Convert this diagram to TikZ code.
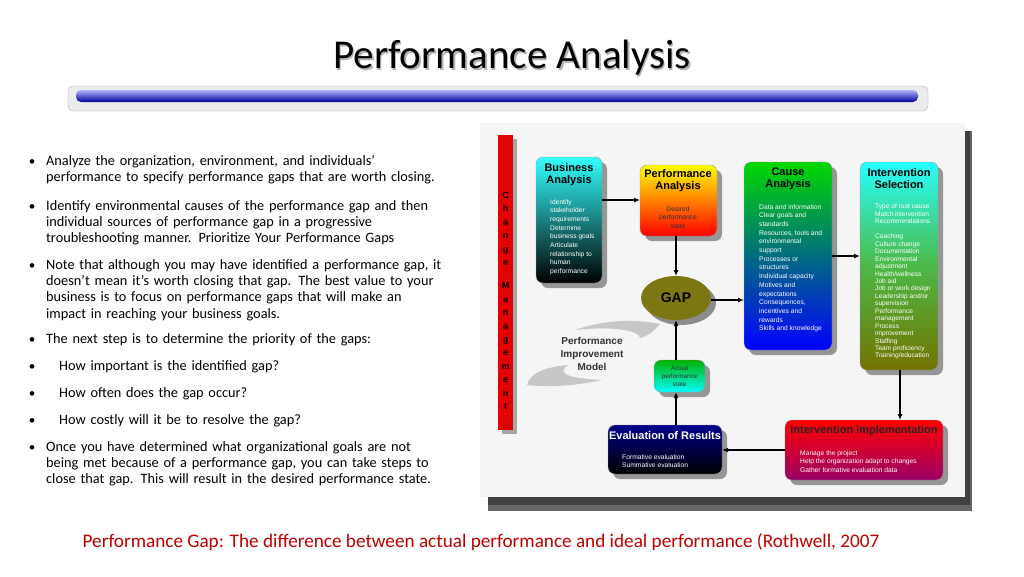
\documentclass[tikz,border=0pt]{standalone}
\usepackage{fontspec}
\setmainfont{Carlito}
\newfontfamily\arial{Liberation Sans}
\usetikzlibrary{arrows.meta,shadows}
\begin{document}
\begin{tikzpicture}[x=1pt,y=-1pt,
 bul/.style={anchor=north west,font=\fontsize{14.3}{16.4}\selectfont,text width=420pt,align=left,inner sep=0pt},
 box/.style={rounded corners=7pt,draw=black!40,line width=0.4pt,drop shadow={shadow xshift=5pt,shadow yshift=-5pt,fill=black!45,opacity=0.9}},
 ttl/.style={font=\arial\bfseries\fontsize{11}{12}\selectfont,align=center,inner sep=0pt},
 sm/.style={font=\arial\fontsize{6.7}{8.7}\selectfont,align=left,anchor=north west,inner sep=0pt,text=white},
 arr/.style={-{Latex[length=6pt,width=5pt]},line width=1.3pt}]
\useasboundingbox (0,0) rectangle (1024,576);
\fill[white] (0,0) rectangle (1024,576);
\node[text=black!30] at (513.5,59.5) {\fontsize{41}{46}\selectfont Performance Analysis};
\node (title) at (512,58) {\fontsize{41}{46}\selectfont Performance Analysis};
\draw[rounded corners=5pt,fill=black!8,draw=black!30] (68,86) rectangle (928,111);
\shade[rounded corners=5pt,top color=blue!30!white,bottom color=blue!60!black] (76,90) rectangle (918,102);
% bullets
\foreach \y in {163,208,267,341,368,395,422,449}{\node at (32,\y) {\fontsize{13}{14}\selectfont\textbullet};}
\node[bul] (b1) at (46,155) {Analyze the organization, environment, and individuals’\\performance to specify performance gaps that are worth closing.};
\node[bul] (b2) at (46,200) {Identify environmental causes of the performance gap and then\\individual sources of performance gap in a progressive\\troubleshooting manner. Prioritize Your Performance Gaps};
\node[bul] (b3) at (46,259) {Note that although you may have identified a performance gap, it\\doesn’t mean it’s worth closing that gap. The best value to your\\business is to focus on performance gaps that will make an\\impact in reaching your business goals.};
\node[bul] (b4) at (46,333) {The next step is to determine the priority of the gaps:};
\node[bul] (b5) at (59,360) {How important is the identified gap?};
\node[bul] (b6) at (59,387) {How often does the gap occur?};
\node[bul] (b7) at (59,414) {How costly will it be to resolve the gap?};
\node[bul] (b8) at (46,441) {Once you have determined what organizational goals are not\\being met because of a performance gap, you can take steps to\\close that gap. This will result in the desired performance state.};
% diagram frame
\fill[black!60] (488,131) rectangle (972,511);
\fill[black!75] (488,131) rectangle (970,505);
\fill[black!4] (480,123) rectangle (965,497);
\fill[black!35] (502,139) rectangle (517,434);
\fill[red!90!black] (498,135) rectangle (513,430);
\node[font=\arial\bfseries\fontsize{9}{13.4}\selectfont,align=center,inner sep=0pt,anchor=north] (cm) at (505.5,192) {C\\h\\a\\n\\g\\e\\[10pt]M\\a\\n\\a\\g\\e\\m\\e\\n\\t};
% swooshes
\fill[black!22] (575,330) .. controls (610,318) and (640,320) .. (660,324) .. controls (655,330) and (650,335) .. (640,338) .. controls (640,330) and (610,326) .. (575,330);
\fill[black!22] (527,385) .. controls (530,373) and (545,367) .. (568,365) .. controls (558,372) and (562,378) .. (602,380) .. controls (570,387) and (545,387) .. (527,385);
\node[font=\arial\bfseries\fontsize{10}{13}\selectfont,align=center,text=black!80] (pim) at (592,354) {Performance\\Improvement\\Model};
% boxes
\shade[box,top color=cyan!80!white,bottom color=black] (536,157) rectangle (602,283);
\node[ttl] (ba) at (569,175) {Business\\Analysis};
\node[sm] (bat) at (550,199) {Identify\\stakeholder\\requirements\\Determine\\business goals\\Articulate\\relationship to\\human\\performance};
\shade[box,top color=yellow,bottom color=red] (640,165) rectangle (717,236);
\node[ttl] (pa) at (678,181) {Performance\\Analysis};
\node[sm,text=black!80,align=center,anchor=north] (pat) at (678,206) {Desired\\performance\\state};
\shade[box,top color=green!85!black,bottom color=blue] (744,162) rectangle (832,350);
\node[ttl] (ca) at (788,179) {Cause\\Analysis};
\node[sm] (cat) at (759,204) {Data and information\\Clear goals and\\standards\\Resources, tools and\\environmental\\support\\Processes or\\structures\\Individual capacity\\Motives and\\expectations\\Consequences,\\incentives and\\rewards\\Skills and knowledge};
\shade[box,top color=cyan!85!white,bottom color=olive!90!black] (860,162) rectangle (938,370);
\node[ttl] (is) at (899,179) {Intervention\\Selection};
\node[sm,font=\arial\fontsize{6.6}{7.45}\selectfont] (ist) at (875,204) {Type of root cause\\Match intervention\\Recommendations\\[7.45pt]Coaching\\Culture change\\Documentation\\Environmental\\adjustment\\Health/wellness\\Job aid\\Job or work design\\Leadership and/or\\supervision\\Performance\\management\\Process\\improvement\\Staffing\\Team proficiency\\Training/education};
\shade[box,top color=green!70!black,bottom color=cyan] (654,360) rectangle (705,392);
\node[sm,text=black!80,align=center,anchor=center,font=\arial\fontsize{6.3}{8}\selectfont] (ap) at (679.5,376) {Actual\\performance\\state};
\shade[box,top color=blue!55!black,bottom color=black] (608,425) rectangle (722,474);
\node[ttl,text=white] (er) at (665,436) {Evaluation of Results};
\node[sm] (ert) at (622,454) {Formative evaluation\\Summative evaluation};
\shade[box,top color=red,bottom color=violet!80!red] (785,420) rectangle (943,480);
\node[ttl,text=black!85] (ii) at (864,431) {Intervention Implementation};
\node[sm] (iit) at (800,450) {Manage the project\\Help the organization adapt to changes\\Gather formative evaluation data};
\fill[black!45] (681,303) ellipse (35 and 22);
\fill[olive!85!black] (676,298) ellipse (35 and 22);
\node[font=\arial\bfseries\fontsize{14}{15}\selectfont] (gap) at (676,298) {GAP};
% arrows
\coordinate (a1) at (602,200); \coordinate (a2) at (640,200);
\draw[arr] (a1) -- (a2);
\coordinate (p1) at (676,236); \coordinate (g1) at (676,276);
\draw[arr] (p1) -- (g1);
\coordinate (g2) at (711,300); \coordinate (c1) at (744,300);
\draw[arr] (g2) -- (c1);
\coordinate (c2) at (832,256); \coordinate (i1) at (860,256);
\draw[arr] (c2) -- (i1);
\coordinate (i2) at (900,370); \coordinate (m1) at (900,420);
\draw[arr] (i2) -- (m1);
\coordinate (m2) at (785,450); \coordinate (e1) at (722,450);
\draw[arr] (m2) -- (e1);
\coordinate (e2) at (676,425); \coordinate (x1) at (676,392);
\draw[arr] (e2) -- (x1);
\coordinate (x2) at (676,360); \coordinate (g3) at (676,320);
\draw[arr] (x2) -- (g3);
\node[text=red!75!black,font=\fontsize{19.2}{21}\selectfont] (cap) at (481,542) {Performance Gap: The difference between actual performance and ideal performance (Rothwell, 2007};
\end{tikzpicture}
\end{document}
